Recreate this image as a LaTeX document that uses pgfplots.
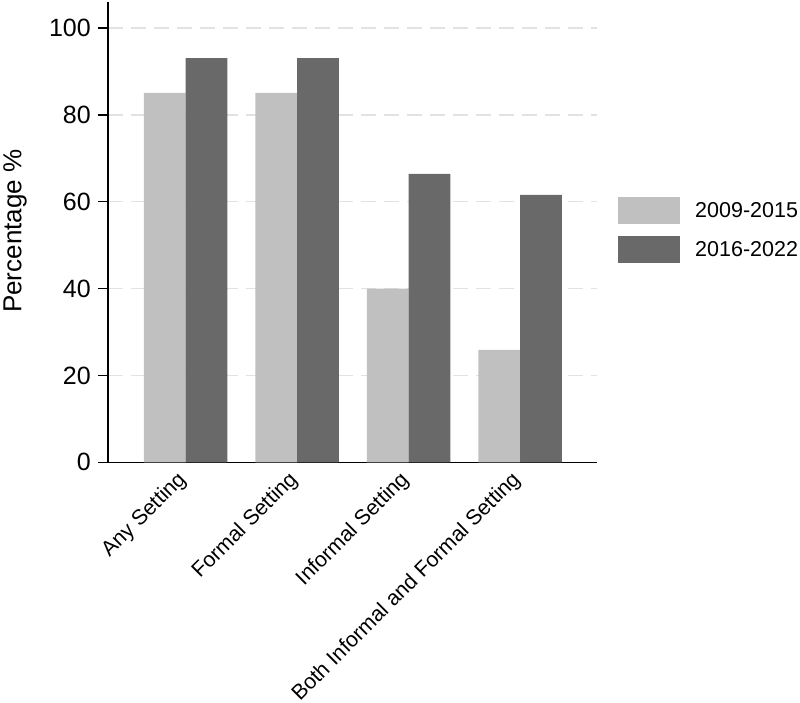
\documentclass[border=0pt]{standalone}
\usepackage{pgfplots}
\pgfplotsset{compat=1.18}
\usepackage{fontspec}
\setmainfont{Liberation Sans}

\definecolor{lightbar}{RGB}{192,192,192}
\definecolor{darkbar}{RGB}{105,105,105}
\definecolor{gridgray}{RGB}{226,226,226}

\begin{document}
\begin{tikzpicture}
% fixed page frame around the axis box (axis south west sits at the origin)
\path[use as bounding box] (-108pt,-240.7pt) rectangle (692pt,462.3pt);
\begin{axis}[
  scale only axis,
  width=489pt, height=460.3pt,
  xmin=-0.697, xmax=3.69,
  ymin=0, ymax=106,
  ybar=0pt, bar width=41.7pt,
  axis lines*=left,
  axis line style={line width=1.3pt, black},
  xtick={0,1,2,3},
  xticklabels={Any Setting, Formal Setting, Informal Setting, Both Informal and Formal Setting},
  x tick style={draw=none},
  xticklabel style={rotate=45, anchor=north east, inner sep=2pt,
    xshift=-3pt, yshift=11pt,
    font=\fontsize{21.3}{22}\selectfont},
  ytick={0,20,40,60,80,100},
  y tick style={line width=1.3pt, black},
  tick align=outside,
  major tick length=10pt,
  /pgf/number format/assume math mode=true,
  yticklabel style={font=\fontsize{25}{25}\selectfont, inner sep=7pt},
  ymajorgrids,
  major grid style={gridgray, line width=1.3pt, dash pattern=on 15pt off 8pt},
  ylabel={Percentage \%},
  ylabel style={at={(axis description cs:-0.19,0.502)}, anchor=center,
    font=\fontsize{26}{26}\selectfont},
  legend style={draw=none, fill=none, at={(1.043,0.576)}, anchor=north west,
    inner sep=0pt, row sep=11.5pt, nodes={inner sep=0pt},
    font=\fontsize{21.5}{22}\selectfont,
    /tikz/every odd column/.append style={column sep=15pt}},
  legend cell align=left,
]
\addplot[fill=lightbar, draw=none,
  legend image code/.code={\fill[lightbar] (0pt,-13.5pt) rectangle (62pt,13.5pt);}]
  coordinates {(0,85.1) (1,85.1) (2,40.0) (3,25.9)};
\addplot[fill=darkbar, draw=none,
  legend image code/.code={\fill[darkbar] (0pt,-13.5pt) rectangle (62pt,13.5pt);}]
  coordinates {(0,93.1) (1,93.1) (2,66.4) (3,61.6)};
\legend{2009-2015, 2016-2022}
\end{axis}
\end{tikzpicture}
\end{document}
